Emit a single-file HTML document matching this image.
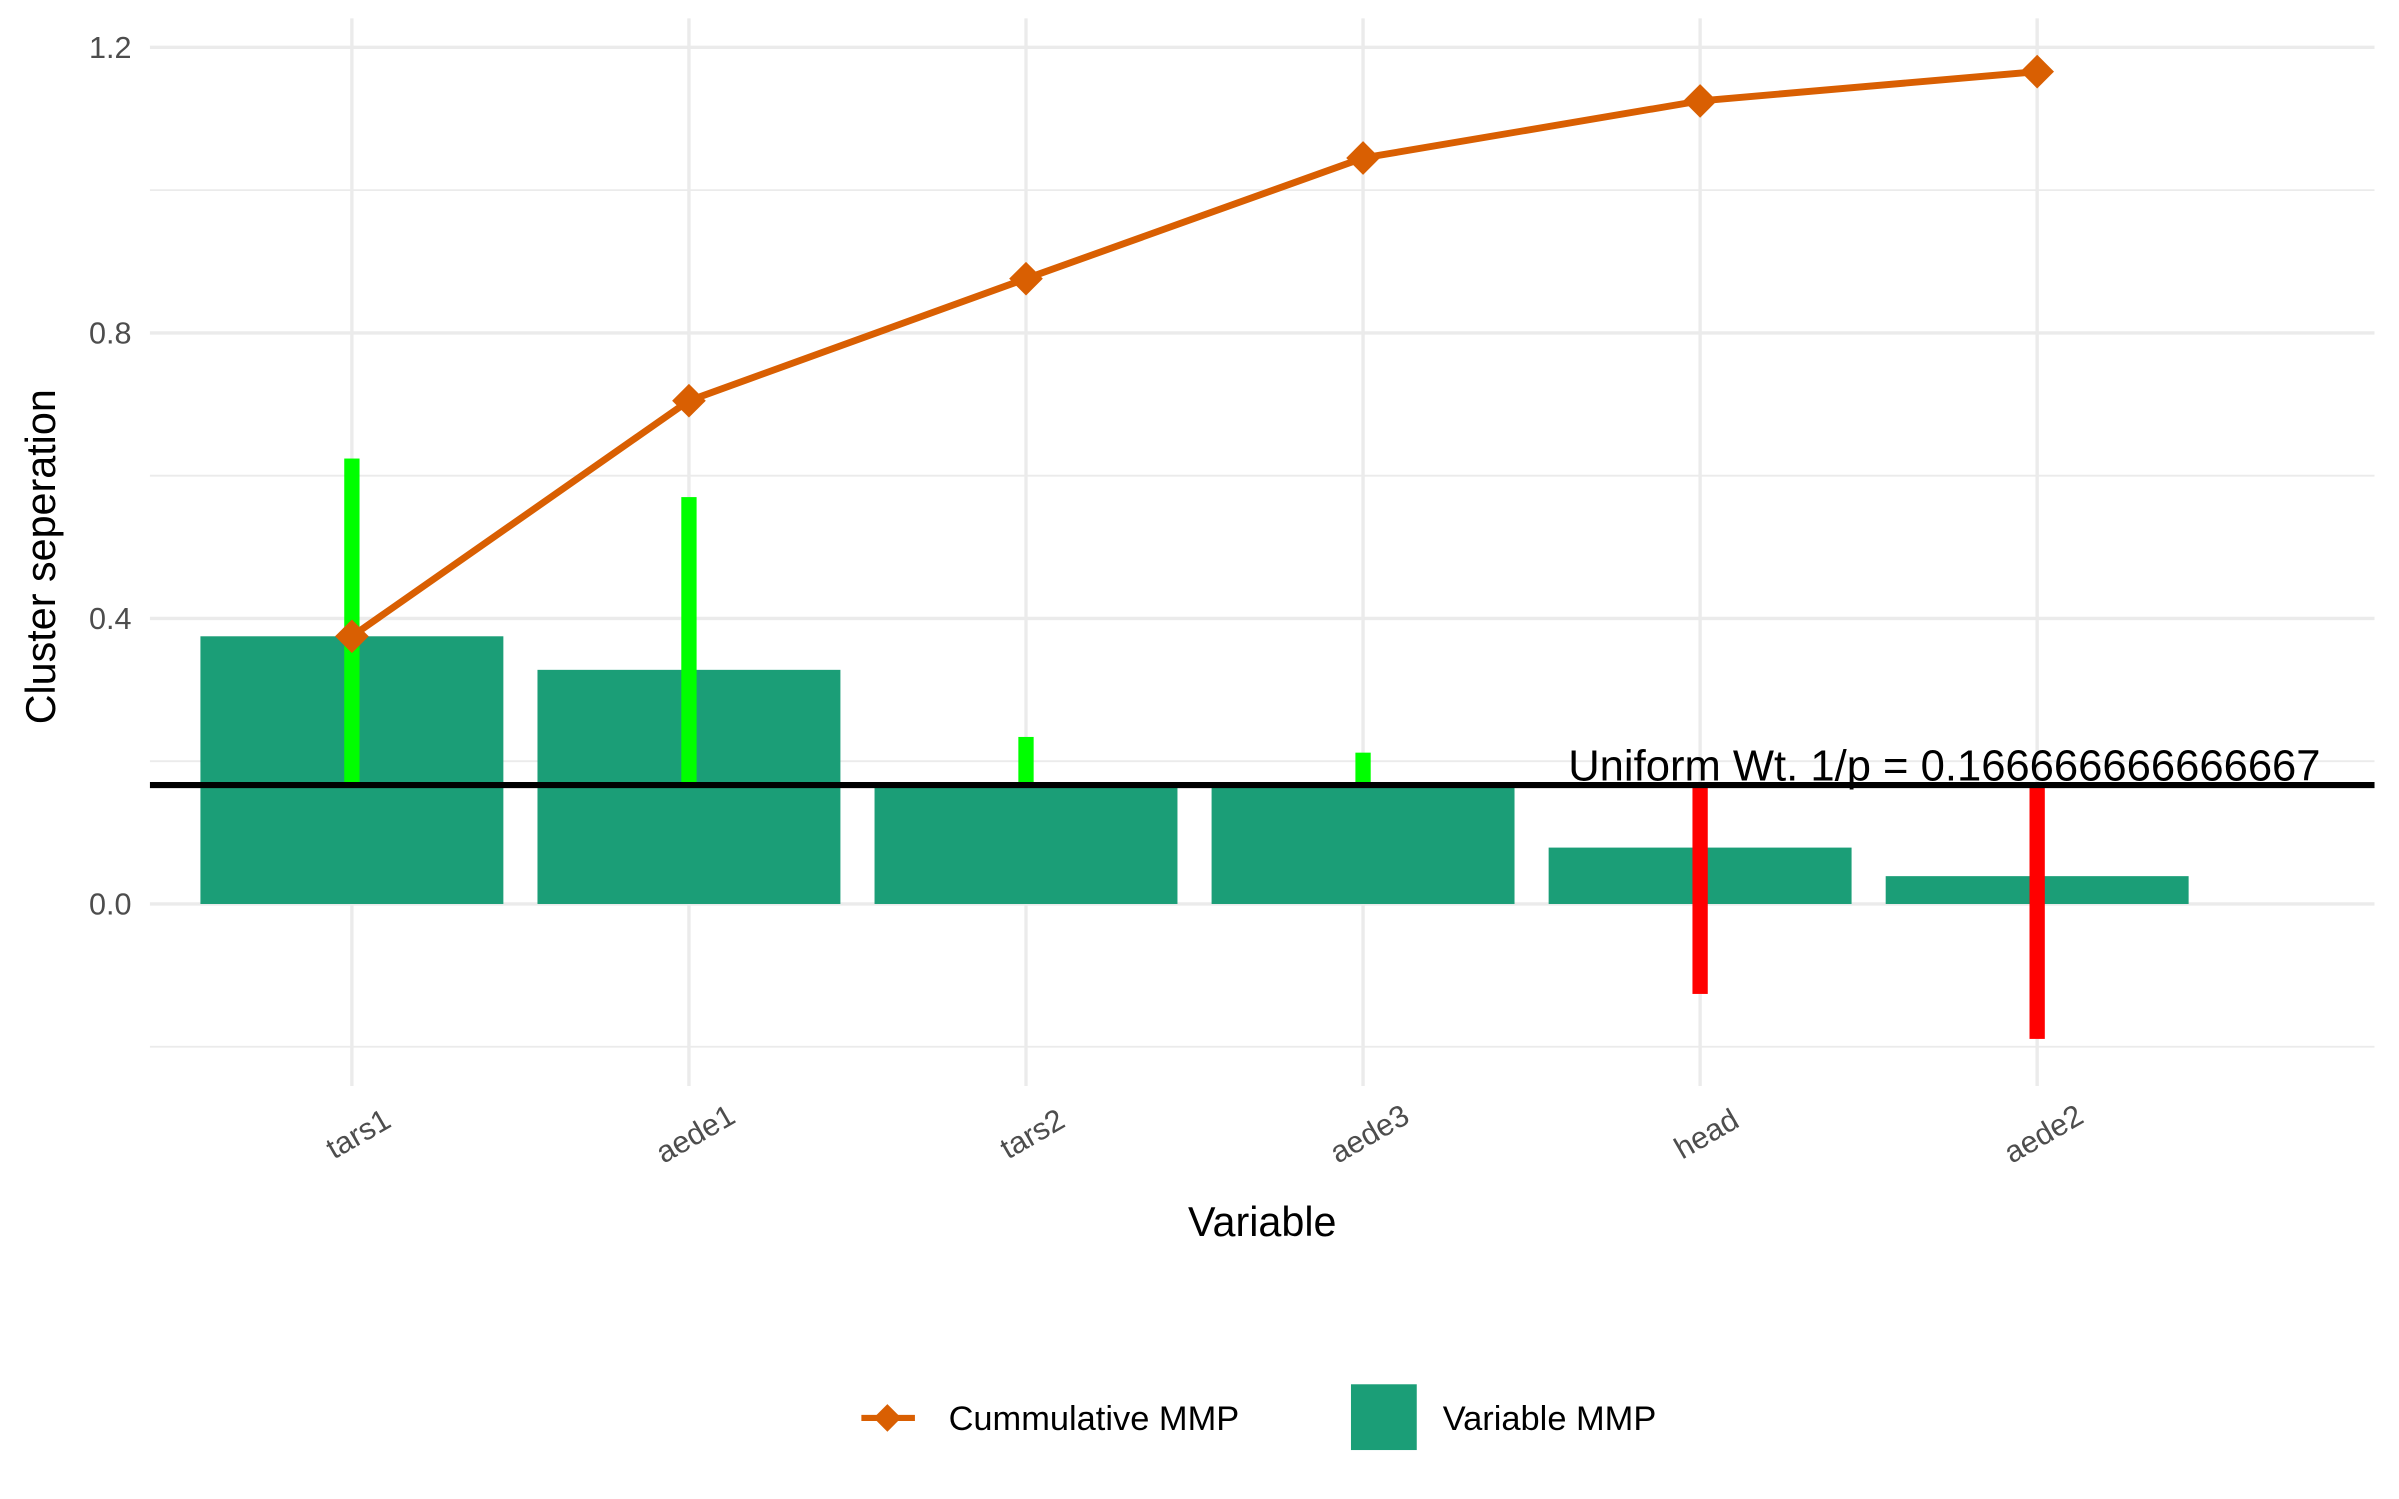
<!DOCTYPE html>
<html><head><meta charset="utf-8"><style>html,body{margin:0;padding:0;background:#fff}svg{display:block}</style></head>
<body>
<svg id="chart" width="2399" height="1499" viewBox="0 0 1568 980" preserveAspectRatio="none" xmlns="http://www.w3.org/2000/svg" font-family="Liberation Sans, sans-serif">
<g id="grid"></g>
<g id="bars"></g>
<g id="segs"></g>
<g id="uline"></g>
<g id="cum"></g>
<g id="axes"></g>
<text x="36" y="364" transform="rotate(-90 36 364)" font-size="27" fill="#000" text-anchor="middle">Cluster seperation</text>
<text x="825" y="808" font-size="27" fill="#000" text-anchor="middle">Variable</text>
<g>
<g>
<line x1="563" y1="927" x2="598" y2="927" stroke="#D95F02" stroke-width="4"/>
<polygon points="580,918 589,927 580,936 571,927" fill="#D95F02"/>
<text x="620" y="935" font-size="22.5" fill="#000">Cummulative MMP</text></g>
<g>
<rect x="883" y="905" width="43" height="43" fill="#1B9E77"/>
<text x="943" y="935" font-size="22.5" fill="#000">Variable MMP</text></g>
</g>
</svg>
<script>
const categories=["tars1","aede1","tars2","aede3","head","aede2"];
const variableMMP=[0.375,0.328,0.167,0.167,0.079,0.039];
const cumulativeMMP=[0.375,0.705,0.876,1.045,1.125,1.166];
const segmentEnds=[0.624,0.570,0.234,0.212,-0.126,-0.189];
const uniformWt=0.166666666666667;
const yTicks=[0,0.4,0.8,1.2];
const yMinor=[-0.2,0.2,0.6,1.0];
const NS="http://www.w3.org/2000/svg";
const X0=98,X1=1552;
const y=v=>591-v*466.7;
const x=i=>230+i*220.3;
function mk(tag,attrs,parent){const e=document.createElementNS(NS,tag);for(const k in attrs)e.setAttribute(k,attrs[k]);document.getElementById(parent).appendChild(e);return e;}
yMinor.forEach(v=>{const l=mk('line',{x1:X0,x2:X1,y1:y(v),y2:y(v),stroke:'#ebebeb','stroke-width':1.2},'grid');

});
yTicks.forEach(v=>{const l=mk('line',{x1:X0,x2:X1,y1:y(v),y2:y(v),stroke:'#ebebeb','stroke-width':2.2},'grid');


const t=mk('text',{x:86,y:y(v)+7,'text-anchor':'end','font-size':20,fill:'#4d4d4d'},'axes');t.textContent=v.toFixed(1);

});
categories.forEach((c,i)=>{const l=mk('line',{x1:x(i),x2:x(i),y1:12,y2:710,stroke:'#ebebeb','stroke-width':2.2},'grid');


const t=mk('text',{x:x(i)+4,y:748,'text-anchor':'middle','font-size':20,fill:'#4d4d4d',transform:`rotate(-30 ${x(i)+4} 741)`},'axes');t.textContent=c;


const b=mk('rect',{x:x(i)-99,width:198,y:Math.min(y(variableMMP[i]),y(0)),height:Math.abs(y(0)-y(variableMMP[i])),fill:'#1B9E77'},'bars');


const e=segmentEnds[i];
const s=mk('rect',{x:x(i)-5,width:10,y:Math.min(y(e),y(uniformWt)),height:Math.abs(y(e)-y(uniformWt)),fill:e>=uniformWt?'#00FF00':'#FF0000'},'segs');

});
const ul=mk('line',{x1:X0,x2:X1,y1:y(uniformWt),y2:y(uniformWt),stroke:'#000','stroke-width':4},'uline');


const ut=mk('text',{x:1025,y:y(uniformWt)-3,'font-size':28.5,fill:'#000'},'uline');ut.textContent='Uniform Wt. 1/p = 0.166666666666667';


const pl=mk('polyline',{points:cumulativeMMP.map((v,i)=>x(i)+','+y(v)).join(' '),fill:'none',stroke:'#D95F02','stroke-width':4.5},'cum');


cumulativeMMP.forEach((v,i)=>{const p=mk('polygon',{points:`${x(i)},${y(v)-11} ${x(i)+11},${y(v)} ${x(i)},${y(v)+11} ${x(i)-11},${y(v)}`,fill:'#D95F02'},'cum');

});
</script>
</body></html>
